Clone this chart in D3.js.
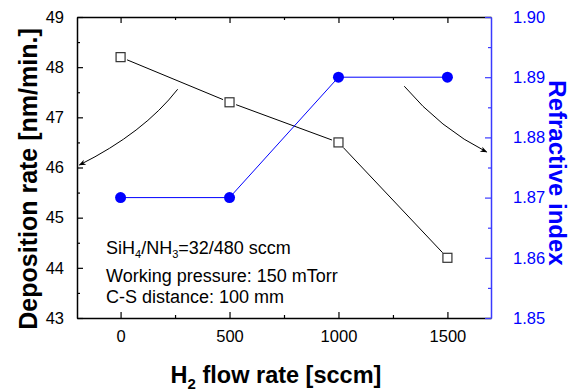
<!DOCTYPE html>
<html>
<head>
<meta charset="utf-8">
<script src="https://cdn.jsdelivr.net/npm/d3@7"></script>
<style>
  body { margin: 0; background: #fff; }
  text { font-family: Arial, "Liberation Sans", sans-serif; }
</style>
</head>
<body>
<div id="chart"></div>
<script>
// data
const flowRates = [0, 500, 1000, 1500];
const depositionRate = [48.2, 47.3, 46.5, 44.2];
const refractiveIndex = [1.87, 1.87, 1.89, 1.89];

const xTicks = [0, 500, 1000, 1500];
const xMinorTicks = [250, 750, 1250];
const yLeftTicks = [43, 44, 45, 46, 47, 48, 49];
const yRightTicks = [1.85, 1.86, 1.87, 1.88, 1.89, 1.90];

const notes = ['Working pressure: 150 mTorr', 'C-S distance: 100 mm'];

// arrows in data units (flow rate, deposition rate): start, control, end
const arrowLeft = [[262, 47.56], [106, 46.69], [-189, 46.05]];
const arrowRight = [[1302, 47.62], [1468, 46.77], [1680, 46.31]];

const W = 572, H = 391;
const margin = { top: 17, right: 81, bottom: 73, left: 77 };
const width = W - margin.left - margin.right;
const height = H - margin.top - margin.bottom;
const blue = '#0000ff';
const axisBlue = '#3a3aff';

const svg = d3.select('#chart').append('svg')
  .attr('width', W).attr('height', H);

const g = svg.append('g')
  .attr('transform', `translate(${margin.left},${margin.top})`);

const x = d3.scaleLinear().domain([-200, 1700]).range([0, width]);
const yL = d3.scaleLinear().domain([43, 49]).range([height, 0]);
const yR = d3.scaleLinear().domain([1.85, 1.90]).range([height, 0]);

const halfL = d3.range(43.5, 49, 1);
const halfR = d3.range(1.855, 1.9, 0.01);

// tick helper: draws inward ticks
function styleAxis(sel, color) {
  sel.select('.domain').attr('stroke', color).attr('stroke-width', 1.5);
  sel.selectAll('.tick line').attr('stroke', color).attr('stroke-width', 1.2);
  sel.selectAll('.tick text').attr('fill', color).style('font-size', '16.5px');
}

// bottom axis
const xb = g.append('g').attr('transform', `translate(0,${height})`)
  .call(d3.axisBottom(x).tickValues(xTicks).tickSizeInner(-6).tickSizeOuter(0).tickPadding(12).tickFormat(d3.format('d')));
styleAxis(xb, '#000');
g.append('g').attr('transform', `translate(0,${height})`)
  .call(d3.axisBottom(x).tickValues(xMinorTicks).tickSize(-3).tickFormat(''))
  .call(s => { s.select('.domain').remove(); s.selectAll('line').attr('stroke', '#000').attr('stroke-width', 1.2); });

// top axis
const xt = g.append('g')
  .call(d3.axisTop(x).tickValues(xTicks).tickSizeInner(-6).tickSizeOuter(0).tickFormat(''));
styleAxis(xt, '#000');
g.append('g')
  .call(d3.axisTop(x).tickValues(xMinorTicks).tickSize(-3).tickFormat(''))
  .call(s => { s.select('.domain').remove(); s.selectAll('line').attr('stroke', '#000').attr('stroke-width', 1.2); });

// left axis
const yl = g.append('g')
  .call(d3.axisLeft(yL).tickValues(yLeftTicks).tickSizeInner(-6).tickSizeOuter(0).tickPadding(13).tickFormat(d3.format('d')));
styleAxis(yl, '#000');
g.append('g')
  .call(d3.axisLeft(yL).tickValues(halfL).tickSize(-3).tickFormat(''))
  .call(s => { s.select('.domain').remove(); s.selectAll('line').attr('stroke', '#000').attr('stroke-width', 1.2); });

// right axis
const yr = g.append('g').attr('transform', `translate(${width},0)`)
  .call(d3.axisRight(yR).tickValues(yRightTicks).tickSizeInner(-6).tickSizeOuter(0).tickPadding(22).tickFormat(d3.format('.2f')));
styleAxis(yr, axisBlue);
yr.selectAll('.tick text').attr('fill', blue);
g.append('g').attr('transform', `translate(${width},0)`)
  .call(d3.axisRight(yR).tickValues(halfR).tickSize(-3).tickFormat(''))
  .call(s => { s.select('.domain').remove(); s.selectAll('line').attr('stroke', axisBlue).attr('stroke-width', 1.2); });

// deposition rate line: segments stop short of the open squares
const depPts = flowRates.map((f, i) => [x(f), yL(depositionRate[i])]);
const gap = 7;
d3.pairs(depPts).forEach(([a, b]) => {
  const dx = b[0] - a[0], dy = b[1] - a[1];
  const len = Math.hypot(dx, dy);
  g.append('line')
    .attr('x1', a[0] + dx / len * gap).attr('y1', a[1] + dy / len * gap)
    .attr('x2', b[0] - dx / len * gap).attr('y2', b[1] - dy / len * gap)
    .attr('stroke', '#000').attr('stroke-width', 1);
});
g.selectAll('.sq')
  .data(flowRates)
  .enter().append('rect')
  .attr('class', 'sq')
  .attr('x', (d, i) => x(d) - 4.5)
  .attr('y', (d, i) => yL(depositionRate[i]) - 4.5)
  .attr('width', 9).attr('height', 9)
  .attr('fill', '#fff').attr('stroke', '#333').attr('stroke-width', 1.2);

// refractive index line
const riLine = d3.line().x((d, i) => x(flowRates[i])).y(d => yR(d));
g.append('path')
  .datum(refractiveIndex)
  .attr('d', riLine)
  .attr('fill', 'none').attr('stroke', blue).attr('stroke-width', 1);
g.selectAll('.dot')
  .data(refractiveIndex)
  .enter().append('circle')
  .attr('class', 'dot')
  .attr('cx', (d, i) => x(flowRates[i]))
  .attr('cy', d => yR(d))
  .attr('r', 5.5)
  .attr('fill', blue);

// arrows
svg.append('defs').append('marker')
  .attr('id', 'ah').attr('viewBox', '0 0 10 10')
  .attr('refX', 9).attr('refY', 5)
  .attr('markerWidth', 9).attr('markerHeight', 7)
  .attr('markerUnits', 'userSpaceOnUse')
  .attr('orient', 'auto')
  .append('path').attr('d', 'M0,1 L10,5 L0,9 L3,5 Z').attr('fill', '#000');

[arrowLeft, arrowRight].forEach(pts => {
  const p = pts.map(d => [x(d[0]), yL(d[1])]);
  g.append('path')
    .attr('d', `M${p[0][0]},${p[0][1]} Q${p[1][0]},${p[1][1]} ${p[2][0]},${p[2][1]}`)
    .attr('fill', 'none').attr('stroke', '#000').attr('stroke-width', 1)
    .attr('marker-end', 'url(#ah)');
});

// annotation text
const nx = 106 - margin.left;
const t1 = g.append('text').attr('x', nx).attr('y', 254 - margin.top)
  .style('font-size', '18px').attr('fill', '#000');
t1.append('tspan').text('SiH');
t1.append('tspan').text('4').attr('dy', 4).style('font-size', '11px');
t1.append('tspan').text('/NH').attr('dy', -4);
t1.append('tspan').text('3').attr('dy', 4).style('font-size', '11px');
t1.append('tspan').text('=32/480 sccm').attr('dy', -4);
g.selectAll('.note')
  .data(notes)
  .enter().append('text')
  .attr('class', 'note')
  .attr('x', nx)
  .attr('y', (d, i) => [282, 303][i] - margin.top)
  .style('font-size', '18px')
  .text(d => d);

// axis titles
const xt1 = svg.append('text')
  .attr('x', 276).attr('y', 383)
  .attr('text-anchor', 'middle')
  .style('font-size', '23.5px').style('font-weight', 'bold');
xt1.append('tspan').text('H');
xt1.append('tspan').text('2').attr('dy', 6).style('font-size', '15px');
xt1.append('tspan').text(' flow rate [sccm]').attr('dy', -6);

svg.append('text')
  .attr('transform', `translate(37,179) rotate(-90)`)
  .attr('text-anchor', 'middle')
  .style('font-size', '25px').style('font-weight', 'bold')
  .text('Deposition rate [nm/min.]');

svg.append('text')
  .attr('transform', `translate(549,173) rotate(90)`)
  .attr('text-anchor', 'middle')
  .attr('fill', blue)
  .style('font-size', '24px').style('font-weight', 'bold')
  .text('Refractive index');
</script>
</body>
</html>
